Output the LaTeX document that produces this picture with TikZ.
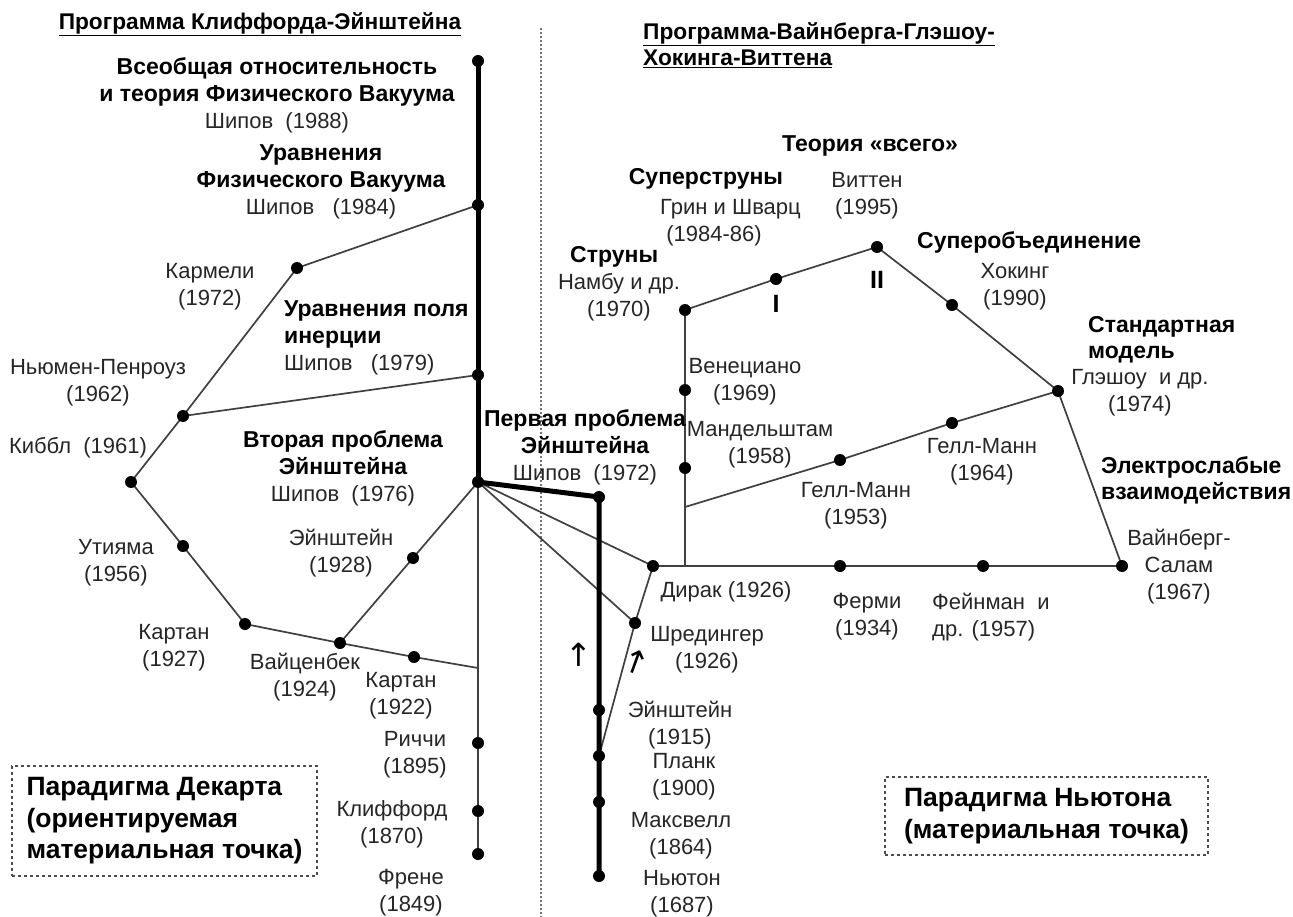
\documentclass[tikz,border=0pt]{standalone}
\usepackage{fontspec}
\setmainfont{Liberation Sans}
\newfontfamily\arrowfont{DejaVu Sans}
\pgfdeclarelayer{bg}
\pgfsetlayers{bg,main}
\begin{document}
\begin{tikzpicture}[x=1pt,y=-1pt,
  dot/.style={circle,fill=black,inner sep=0pt,minimum size=12pt},
  conn/.style={line width=1.7pt,draw=black!75},
  heavy/.style={line width=5pt,draw=black,line join=miter},
  divider/.style={line width=1.6pt,draw=black!55,dash pattern=on 1.6pt off 2.4pt},
  lbl/.style={font=\fontsize{22}{27}\selectfont,text=black!85,align=center,inner sep=0pt},
  bl/.style={font=\bfseries\fontsize{23}{26}\selectfont,text=black,align=center,inner sep=0pt},
  ttl/.style={font=\bfseries\fontsize{22.7}{26}\selectfont,text=black,align=left,inner sep=0pt},
  roman/.style={font=\bfseries\fontsize{25}{28}\selectfont,text=black,inner sep=0pt},
  parbox/.style={draw=black!70,line width=1.3pt,dash pattern=on 3pt off 3pt,
    font=\bfseries\fontsize{26.5}{31.5}\selectfont,align=left,inner sep=0pt},
  arr/.style={font=\arrowfont\fontsize{32}{32}\selectfont,inner sep=0pt}
]
\useasboundingbox (0,0) rectangle (1293,917);

% ---------- dots: left program ----------
\node[dot] (dTop)   at (478,61)  {};
\node[dot] (d1984)  at (478,205) {};
\node[dot] (d1979)  at (478,375) {};
\node[dot] (dJ)     at (478,482) {};
\node[dot] (dRicci) at (478,743) {};
\node[dot] (dCliff) at (478,811) {};
\node[dot] (dFrene) at (478,854) {};
\coordinate (cMain) at (478,668);
\node[dot] (dKarm)  at (297,268) {};
\node[dot] (dNP)    at (183,416) {};
\node[dot] (dKib)   at (131,482) {};
\node[dot] (dUti)   at (183,546) {};
\node[dot] (dCar27) at (245,624) {};
\node[dot] (dWei)   at (340,643) {};
\node[dot] (dCar22) at (414,657) {};
\node[dot] (dEin28) at (413,558) {};

% ---------- dots: Newton line and right program ----------
\node[dot] (dS72)    at (599,497) {};
\node[dot] (dEin15)  at (599,710) {};
\node[dot] (dPlanck) at (599,756) {};
\node[dot] (dMax)    at (599,802) {};
\node[dot] (dNewt)   at (599,876) {};
\node[dot] (dSchr)   at (635,623) {};
\node[dot] (dDirac)  at (653,566) {};
\node[dot] (dFermi)  at (840,566) {};
\node[dot] (dFeyn)   at (983,566) {};
\node[dot] (dWS)     at (1122,566) {};
\coordinate (cV) at (685,566);
\node[dot] (dVen)    at (685,390) {};
\node[dot] (dMand)   at (685,468) {};
\coordinate (cGM) at (685,507);
\node[dot] (dStr)    at (685,310) {};
\node[dot] (dGM53)   at (840,460) {};
\node[dot] (dGM64)   at (952,423) {};
\node[dot] (dGl)     at (1058,391) {};
\node[dot] (dI)      at (776,279) {};
\node[dot] (dII)     at (877,247) {};
\node[dot] (dHawk)   at (952,305) {};
\coordinate (divTop) at (541,28);
\coordinate (divBot) at (541,917);

\begin{pgfonlayer}{bg}
  \fill[white] (0,0) rectangle (1293,917);
  \draw[divider] (divTop) -- (divBot);
  % thin connectors, left
  \draw[conn] (dJ.center) -- (dRicci.center) -- (dCliff.center) -- (dFrene.center);
  \draw[conn] (d1984.center) -- (dKarm.center) -- (dNP.center) -- (dKib.center) -- (dUti.center)
     -- (dCar27.center) -- (dWei.center) -- (dCar22.center) -- (cMain);
  \draw[conn] (dNP.center) -- (d1979.center);
  \draw[conn] (dJ.center) -- (dEin28.center) -- (dWei.center);
  % thin connectors, centre
  \draw[conn] (dJ.center) -- (dDirac.center);
  \draw[conn] (dJ.center) -- (dSchr.center);
  \draw[conn] (dDirac.center) -- (dSchr.center) -- (dPlanck.center);
  % thin connectors, right
  \draw[conn] (dDirac.center) -- (dFermi.center) -- (dFeyn.center) -- (dWS.center);
  \draw[conn] (cV) -- (dMand.center) -- (dVen.center) -- (dStr.center);
  \draw[conn] (cGM) -- (dGM53.center) -- (dGM64.center) -- (dGl.center);
  \draw[conn] (dStr.center) -- (dI.center) -- (dII.center) -- (dHawk.center) -- (dGl.center) -- (dWS.center);
  % heavy lines
  \draw[heavy] (dTop.center) -- (d1984.center) -- (d1979.center) -- (dJ.center);
  \draw[heavy] (dJ.center) -- (dS72.center) -- (dEin15.center) -- (dPlanck.center) -- (dMax.center) -- (dNewt.center);
\end{pgfonlayer}

% ---------- titles ----------
\node[ttl,anchor=center] (tL) at (260,24) {\underline{Программа Клиффорда-Эйнштейна}};
\node[ttl,anchor=west] (tR) at (643,45) {\underline{Программа-Вайнберга-Глэшоу-}\\\underline{Хокинга-Виттена}};

% ---------- labels, left ----------
\node[lbl] (l1988) at (277,95) {\textbf{\color{black}\fontsize{23}{26}\selectfont Всеобщая относительность}\\\textbf{\color{black}\fontsize{23}{26}\selectfont и теория Физического Вакуума}\\Шипов\ \ (1988)};
\node[lbl] (l1984) at (321,182) {\textbf{\color{black}\fontsize{23}{26}\selectfont Уравнения}\\\textbf{\color{black}\fontsize{23}{26}\selectfont Физического Вакуума}\\Шипов\ \ \ (1984)};
\node[lbl] (lKarm) at (210,287) {Кармели\\(1972)};
\node[lbl,align=left,anchor=west] (l1979) at (284,338) {\textbf{\color{black}\fontsize{23}{26}\selectfont Уравнения поля}\\\textbf{\color{black}\fontsize{23}{26}\selectfont инерции}\\Шипов\ \ \ (1979)};
\node[lbl] (lNP) at (98,383) {Ньюмен-Пенроуз\\(1962)};
\node[lbl] (lKib) at (78,448) {Киббл\ \ (1961)};
\node[lbl] (l1976) at (343,468) {\textbf{\color{black}\fontsize{23}{26}\selectfont Вторая проблема}\\\textbf{\color{black}\fontsize{23}{26}\selectfont Эйнштейна}\\Шипов\ \ (1976)};
\node[lbl] (lUti) at (116,563) {Утияма\\(1956)};
\node[lbl] (lEin28) at (341,553) {Эйнштейн\\(1928)};
\node[lbl] (lCar27) at (174,648) {Картан\\(1927)};
\node[lbl] (lWei) at (305,677) {Вайценбек\\(1924)};
\node[lbl] (lCar22) at (401,696) {Картан\\(1922)};
\node[lbl] (lRicci) at (415,755) {Риччи\\(1895)};
\node[lbl] (lCliff) at (392,824) {Клиффорд\\(1870)};
\node[lbl] (lFrene) at (411,893) {Френе\\(1849)};
\node[parbox,minimum width=305pt,minimum height=110pt] (bDesc) at (164.5,821)
  {Парадигма Декарта\\(ориентируемая\\материальная точка)};

% ---------- labels, centre ----------
\node[lbl] (l1972) at (585,447) {\textbf{\color{black}\fontsize{23}{26}\selectfont Первая проблема}\\\textbf{\color{black}\fontsize{23}{26}\selectfont Эйнштейна}\\Шипов\ \ (1972)};
\node[lbl] (lSchr) at (707,650) {Шредингер\\(1926)};
\node[lbl] (lEin15) at (680,725) {Эйнштейн\\(1915)};
\node[lbl] (lPlanck) at (684,777) {Планк\\(1900)};
\node[lbl] (lMax) at (681,836) {Максвелл\\(1864)};
\node[lbl] (lNewt) at (682,894) {Ньютон\\(1687)};
\node[arr] (a1) at (579,655) {↑};
\node[arr,rotate=-20] (a2) at (636,662) {↑};

% ---------- labels, right ----------
\node[bl] (lTOE) at (870,146) {Теория «всего»};
\node[bl] (lSS) at (706,179) {Суперструны};
\node[lbl] (lWit) at (867,196) {Виттен\\(1995)};
\node[lbl,align=left,anchor=west] (lGS) at (660,223) {Грин и Шварц\\\ (1984-86)};
\node[bl,anchor=west] (lSU) at (917,242) {Суперобъединение};
\node[bl,anchor=west] (lStr) at (570,257) {Струны};
\node[lbl] (lNambu) at (619,297) {Намбу и др.\\(1970)};
\node[roman] (rI) at (776,304) {I};
\node[roman] (rII) at (877,280) {II};
\node[lbl] (lHawk) at (1015,287) {Хокинг\\(1990)};
\node[bl,anchor=west,align=left] (lSM) at (1088,340) {Стандартная\\модель};
\node[lbl] (lGl) at (1140,393) {Глэшоу\ \ и др.\\(1974)};
\node[lbl] (lVen) at (745,382) {Венециано\\(1969)};
\node[lbl] (lMand) at (760,445) {Мандельштам\\(1958)};
\node[lbl] (lGM64) at (982,462) {Гелл-Манн\\(1964)};
\node[lbl] (lGM53) at (856,506) {Гелл-Манн\\(1953)};
\node[bl,anchor=west,align=left] (lEW) at (1101,480) {Электрослабые\\взаимодействия};
\node[lbl] (lWS) at (1179,567) {Вайнберг-\\Салам\\(1967)};
\node[lbl] (lDirac) at (726,592) {Дирак (1926)};
\node[lbl] (lFermi) at (867,617) {Ферми\\(1934)};
\node[lbl,align=left,anchor=west] (lFeyn) at (932,617) {Фейнман\ \ и\\др. (1957)};
\node[parbox,minimum width=323pt,minimum height=78pt] (bNewt) at (1046.5,816)
  {Парадигма Ньютона\\(материальная точка)};
\end{tikzpicture}
\end{document}
